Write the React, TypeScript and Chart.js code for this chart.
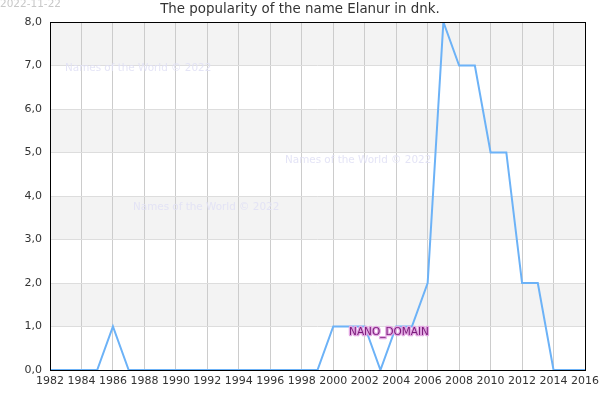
import { useEffect, useRef } from 'react';
import { Chart, registerables, type ChartConfiguration } from 'chart.js';

Chart.register(...registerables);

const years = [
  1982, 1983, 1984, 1985, 1986, 1987, 1988, 1989, 1990, 1991, 1992, 1993, 1994, 1995, 1996, 1997, 1998,
  1999, 2000, 2001, 2002, 2003, 2004, 2005, 2006, 2007, 2008, 2009, 2010, 2011, 2012, 2013, 2014, 2015, 2016
];
const popularity = [
  0, 0, 0, 0, 1, 0, 0, 0, 0, 0, 0, 0, 0, 0, 0, 0, 0,
  0, 1, 1, 1, 0, 1, 1, 2, 8, 7, 7, 5, 5, 2, 2, 0, 0, 0
];
const title = 'The popularity of the name Elanur in dnk.';
const dateStamp = '2022-11-22';
const watermark = 'Names of the World © 2022';

const FONT = '"DejaVu Sans", sans-serif';

export default function App() {
  const chartRef = useRef<HTMLCanvasElement>(null);
  const chartInstanceRef = useRef<Chart | null>(null);

  useEffect(() => {
    document.body.style.margin = '0';
    if (chartInstanceRef.current) {
      chartInstanceRef.current.destroy();
    }
    const canvas = chartRef.current;
    if (!canvas) {
      return;
    }

    const decorPlugin = {
      id: 'decor',
      beforeDraw(chart: Chart) {
        const { ctx, chartArea, scales } = chart;
        const y = scales.y;
        ctx.save();
        ctx.fillStyle = '#f3f3f3';
        for (let v = 1; v < 8; v += 2) {
          const top = y.getPixelForValue(v + 1);
          const bottom = y.getPixelForValue(v);
          ctx.fillRect(chartArea.left, top, chartArea.right - chartArea.left, bottom - top);
        }
        ctx.restore();
      },
      beforeDatasetsDraw(chart: Chart) {
        const { ctx } = chart;
        ctx.save();
        ctx.font = '10.4px ' + FONT;
        ctx.fillStyle = 'rgba(225, 225, 245, 0.9)';
        ctx.textBaseline = 'middle';
        ctx.textAlign = 'left';
        ctx.fillText(watermark, 65, 68);
        ctx.fillText(watermark, 285, 160);
        ctx.fillText(watermark, 133, 207);
        ctx.restore();
      },
      afterDraw(chart: Chart) {
        const { ctx, chartArea } = chart;
        ctx.save();
        ctx.strokeStyle = '#000';
        ctx.lineWidth = 1;
        ctx.strokeRect(
          Math.round(chartArea.left) + 0.5,
          Math.round(chartArea.top) + 0.5,
          Math.round(chartArea.right - chartArea.left),
          Math.round(chartArea.bottom - chartArea.top)
        );

        ctx.font = '10.5px ' + FONT;
        ctx.fillStyle = '#c8c8c8';
        ctx.textAlign = 'left';
        ctx.textBaseline = 'middle';
        ctx.fillText(dateStamp, 0, 4);

        ctx.font = '13.4px ' + FONT;
        ctx.fillStyle = '#333';
        ctx.textAlign = 'center';
        ctx.fillText(title, 300, 10);

        ctx.font = '10.5px ' + FONT;
        ctx.textAlign = 'center';
        ctx.lineWidth = 2.5;
        ctx.lineJoin = 'round';
        ctx.strokeStyle = '#e2a8e2';
        ctx.strokeText('NANO_DOMAIN', 389, 332);
        ctx.fillStyle = '#7a1a7a';
        ctx.fillText('NANO_DOMAIN', 389, 332);
        ctx.restore();
      }
    };

    const config: ChartConfiguration<'line', { x: number; y: number }[]> = {
      type: 'line',
      data: {
        datasets: [
          {
            data: years.map((yr, i) => ({ x: yr, y: popularity[i] })),
            borderColor: '#6cb2f7',
            borderWidth: 2,
            pointRadius: 0,
            tension: 0,
            fill: false
          }
        ]
      },
      options: {
        animation: false,
        responsive: false,
        layout: {
          padding: { top: 22, right: 15, left: 0, bottom: 0 }
        },
        plugins: {
          legend: { display: false },
          tooltip: { enabled: false }
        },
        scales: {
          x: {
            type: 'linear',
            min: 1982,
            max: 2016,
            afterFit: axis => {
              axis.height = 30;
              axis.paddingLeft = 0;
              axis.paddingRight = 0;
            },
            afterBuildTicks: axis => {
              axis.ticks = [];
              for (let v = 1982; v <= 2016; v += 2) axis.ticks.push({ value: v });
            },
            grid: { color: '#cccccc', drawTicks: false },
            border: { display: false },
            ticks: {
              color: '#333',
              font: { family: FONT, size: 11 },
              padding: 5,
              maxRotation: 0,
              autoSkip: false,
              callback: v => String(v)
            }
          },
          y: {
            type: 'linear',
            min: 0,
            max: 8,
            afterFit: axis => {
              axis.width = 50;
              axis.paddingTop = 0;
              axis.paddingBottom = 0;
            },
            grid: { color: '#dddddd', drawTicks: false },
            border: { display: false },
            ticks: {
              stepSize: 1,
              color: '#333',
              font: { family: FONT, size: 11 },
              padding: 8,
              callback: v => Number(v).toFixed(1).replace('.', ',')
            }
          }
        }
      },
      plugins: [decorPlugin]
    };

    chartInstanceRef.current = new Chart(canvas, config);

    return () => {
      chartInstanceRef.current?.destroy();
    };
  }, []);

  return (
    <div style={{ width: 600, height: 400 }}>
      <canvas ref={chartRef} width={600} height={400} style={{ display: 'block' }} />
    </div>
  );
}
